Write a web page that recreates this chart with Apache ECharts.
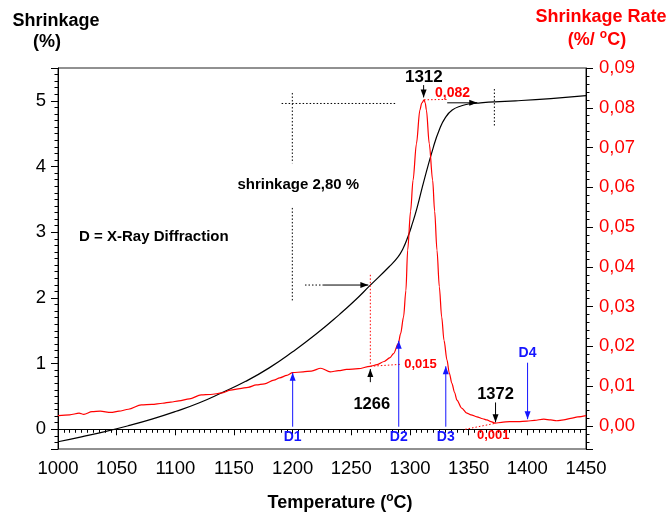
<!DOCTYPE html>
<html><head><meta charset="utf-8">
<script src="https://cdn.jsdelivr.net/npm/echarts@6/dist/echarts.min.js"></script>
<style>html,body{margin:0;padding:0;background:#fff}#c{width:669px;height:516px}</style>
</head><body><div id="c"></div>
<script>
// ---- data ----
const shrinkTemp = [1000,1020,1040,1060,1080,1100,1120,1140,1160,1180,1200,1220,1240,1253,1266,1282,1290,1294,1298,1302,1306,1312,1320,1325,1330,1336,1344,1351,1360,1372,1390,1420,1450];
const shrinkVal  = [-0.19,-0.115,-0.035,0.055,0.155,0.27,0.40,0.56,0.73,0.935,1.18,1.45,1.75,1.96,2.19,2.47,2.63,2.75,2.92,3.13,3.37,3.79,4.30,4.56,4.74,4.86,4.925,4.955,4.97,4.985,5.00,5.035,5.08];
const rateTemp = [1000,1010,1018,1022,1029,1036,1045,1052,1060,1071,1080,1089,1096,1103,1112,1122,1130,1140,1147,1155,1162,1169,1176,1184,1189,1195,1200,1209,1216,1224,1232,1239,1246,1256,1266,1272,1278,1283,1286,1290,1292,1294.5,1296.5,1298,1300.5,1302.6,1305.5,1308.4,1310,1312,1313,1314,1316.4,1319.3,1321,1323,1325,1327,1329,1331.5,1333.5,1335.7,1338,1340,1344,1348.5,1352,1357,1362,1365.5,1369,1372.6,1378,1385,1392,1399.6,1406,1414,1420,1425,1431,1437,1443,1450];
const rateVal  = [0.0026,0.0028,0.0032,0.0029,0.0036,0.0037,0.0034,0.0037,0.0042,0.0053,0.0054,0.0057,0.0060,0.0063,0.0068,0.0078,0.0079,0.0083,0.0090,0.0094,0.0097,0.0103,0.0106,0.0115,0.0121,0.0127,0.0134,0.0136,0.0138,0.0145,0.0136,0.0139,0.0142,0.0144,0.0150,0.0154,0.0162,0.0172,0.0182,0.0207,0.0232,0.0274,0.0340,0.0442,0.0540,0.0618,0.0710,0.0794,0.0812,0.0820,0.0812,0.0794,0.0710,0.0618,0.0540,0.0442,0.0350,0.0274,0.0215,0.0166,0.0133,0.0107,0.0084,0.0065,0.0045,0.0032,0.0028,0.0023,0.0018,0.0015,0.0011,0.0007,0.0009,0.0011,0.0011,0.0012,0.0014,0.0017,0.0015,0.0013,0.0015,0.0019,0.0023,0.0026];
const xTickValues = [1000,1050,1100,1150,1200,1250,1300,1350,1400,1450];

const FONT = "'Liberation Sans', Arial, sans-serif";
const RED = '#ff0000', BLUE = '#1515ff';

const chart = echarts.init(document.getElementById('c'), null, {renderer:'canvas'});
const axisCommon = {
  axisLine:{show:true,lineStyle:{color:'#000',width:1}},
  axisTick:{show:true,inside:false,length:7,lineStyle:{color:'#000',width:1}},
  splitLine:{show:false}
};
chart.setOption({
  animation:false,
  backgroundColor:'#fff',
  grid:{left:58,right:83,top:68,bottom:67,show:true,borderColor:'#222',borderWidth:1,backgroundColor:'transparent'},
  xAxis:Object.assign({}, axisCommon, {
    type:'value', min:xTickValues[0], max:xTickValues[xTickValues.length-1], interval:50,
    minorTick:{show:true,splitNumber:10,length:3.5,lineStyle:{color:'#000'}},
    axisTick:{show:true,length:6,lineStyle:{color:'#000'}},
    axisLabel:{color:'#000',fontSize:18.5,fontFamily:FONT,margin:10,formatter:v=>String(v)}
  }),
  yAxis:[
    Object.assign({}, axisCommon, {
      type:'value', position:'left', min:-0.3, max:5.5, splitNumber:6,
      minorTick:{show:true,splitNumber:10,length:3.5,lineStyle:{color:'#000'}},
      axisLabel:{color:'#000',fontSize:18.5,fontFamily:FONT,margin:12,showMinLabel:false,showMaxLabel:false,
        formatter:v=>String(v)}
    }),
    Object.assign({}, axisCommon, {
      type:'value', position:'right', min:-0.0058, max:0.09, splitNumber:10,
      minorTick:{show:true,splitNumber:5,length:3.5,lineStyle:{color:'#000'}},
      axisLabel:{color:RED,fontSize:18.5,fontFamily:FONT,margin:13,showMinLabel:false,
        formatter:v=>v.toFixed(2).replace('.',',')}
    })
  ],
  series:[
    {type:'line',yAxisIndex:0,data:shrinkTemp.map((t,i)=>[t,shrinkVal[i]]),showSymbol:false,symbol:'none',
     smooth:0.5,lineStyle:{color:'#000',width:1.2},z:3},
    {type:'line',yAxisIndex:1,data:rateTemp.map((t,i)=>[t,rateVal[i]]),showSymbol:false,symbol:'none',
     smooth:0.3,smoothMonotone:'x',lineStyle:{color:RED,width:1.2},z:4}
  ]
});

// ---- annotations in data coordinates ----
const P = (t,v,ax)=>chart.convertToPixel({xAxisIndex:0,yAxisIndex:ax},[t,v]);
const g = [];
function seg(a,b,color,dash){
  g.push({type:'line',z:10,shape:{x1:a[0],y1:a[1],x2:b[0],y2:b[1]},
    style:{stroke:color,lineWidth:1,lineDash:dash?[1.5,2]:null}});
}
function arrow(a,b,color){
  seg(a,b,color,false);
  const dx=b[0]-a[0], dy=b[1]-a[1], L=Math.hypot(dx,dy), ux=dx/L, uy=dy/L, h=8, w=3;
  const bx=b[0]-ux*h, by=b[1]-uy*h;
  g.push({type:'polygon',z:11,shape:{points:[[b[0],b[1]],[bx-uy*w,by+ux*w],[bx+uy*w,by-ux*w]]},style:{fill:color}});
}
function txt(p,s,size,color){
  g.push({type:'text',z:12,x:p[0],y:p[1],style:{text:s,font:'bold '+size+'px '+FONT,fill:color,align:'center',verticalAlign:'middle'}});
}
// peak
txt(P(1311.8,0.0877,1),'1312',17,'#000');
arrow(P(1311.6,0.0857,1),P(1311.6,0.0826,1),'#000');
seg(P(1312,0.0820,1),P(1331.5,0.0821,1),RED,true);
txt(P(1336.3,0.0836,1),'0,082',14,RED);
arrow(P(1331.7,4.97,0),P(1357.3,4.97,0),'#000');
seg(P(1371.9,5.18,0),P(1371.9,4.60,0),'#000',true);
// shrinkage bracket
seg(P(1190.6,4.96,0),P(1288.7,4.96,0),'#000',true);
seg(P(1199.7,5.12,0),P(1199.7,4.05,0),'#000',true);
seg(P(1199.7,3.37,0),P(1199.7,1.94,0),'#000',true);
txt(P(1204.8,3.72,0),'shrinkage 2,80 %',15,'#000');
seg(P(1210.5,2.196,0),P(1225.9,2.196,0),'#000',true);
arrow(P(1225.9,2.196,0),P(1264.5,2.196,0),'#000');
txt(P(1081.7,2.93,0),'D = X-Ray Diffraction',15,'#000');
// 1266
seg(P(1266.2,0.0380,1),P(1266.2,0.0152,1),RED,true);
seg(P(1266.2,0.0150,1),P(1293,0.0155,1),RED,true);
txt(P(1308.9,0.0155,1),'0,015',13,RED);
arrow(P(1266.2,0.0110,1),P(1266.2,0.0143,1),'#000');
txt(P(1267.4,0.0055,1),'1266',16.5,'#000');
// 1372
txt(P(1372.9,0.0080,1),'1372',16.5,'#000');
arrow(P(1372.9,0.0059,1),P(1372.9,0.0009,1),'#000');
seg(P(1347,-0.00085,1),P(1372.6,0.00065,1),RED,true);
txt(P(1370.9,-0.0025,1),'0,001',13,RED);
// XRD arrows
[[1200,0.0134,'D1'],[1290.4,0.0214,'D2'],[1330.5,0.0150,'D3']].forEach(d=>{
  arrow(P(d[0],-0.0002,1),P(d[0],d[1],1),BLUE);
  txt(P(d[0],-0.0027,1),d[2],14,BLUE);
});
arrow(P(1400.2,0.0159,1),P(1400.2,0.0017,1),BLUE);
txt(P(1400.2,0.0182,1),'D4',14,BLUE);
// axis titles
function title(x,y,parts,color){
  g.push({type:'text',z:12,x:x,y:y,style:{text:parts,align:'center',verticalAlign:'middle',fill:color,
    rich:{a:{font:'bold 18px '+FONT,fill:color,verticalAlign:'bottom',lineHeight:20},
          s:{font:'bold 12px '+FONT,fill:color,verticalAlign:'top',lineHeight:20}}}});
}
title(56,20,'{a|Shrinkage}','#000');
title(47,41,'{a|(%)}','#000');
title(601,16,'{a|Shrinkage Rate}',RED);
title(597,39,'{a|(%/ }{s|o}{a|C)}',RED);
title(340,502,'{a|Temperature (}{s|o}{a|C)}','#000');
chart.setOption({graphic:g});
</script></body></html>
